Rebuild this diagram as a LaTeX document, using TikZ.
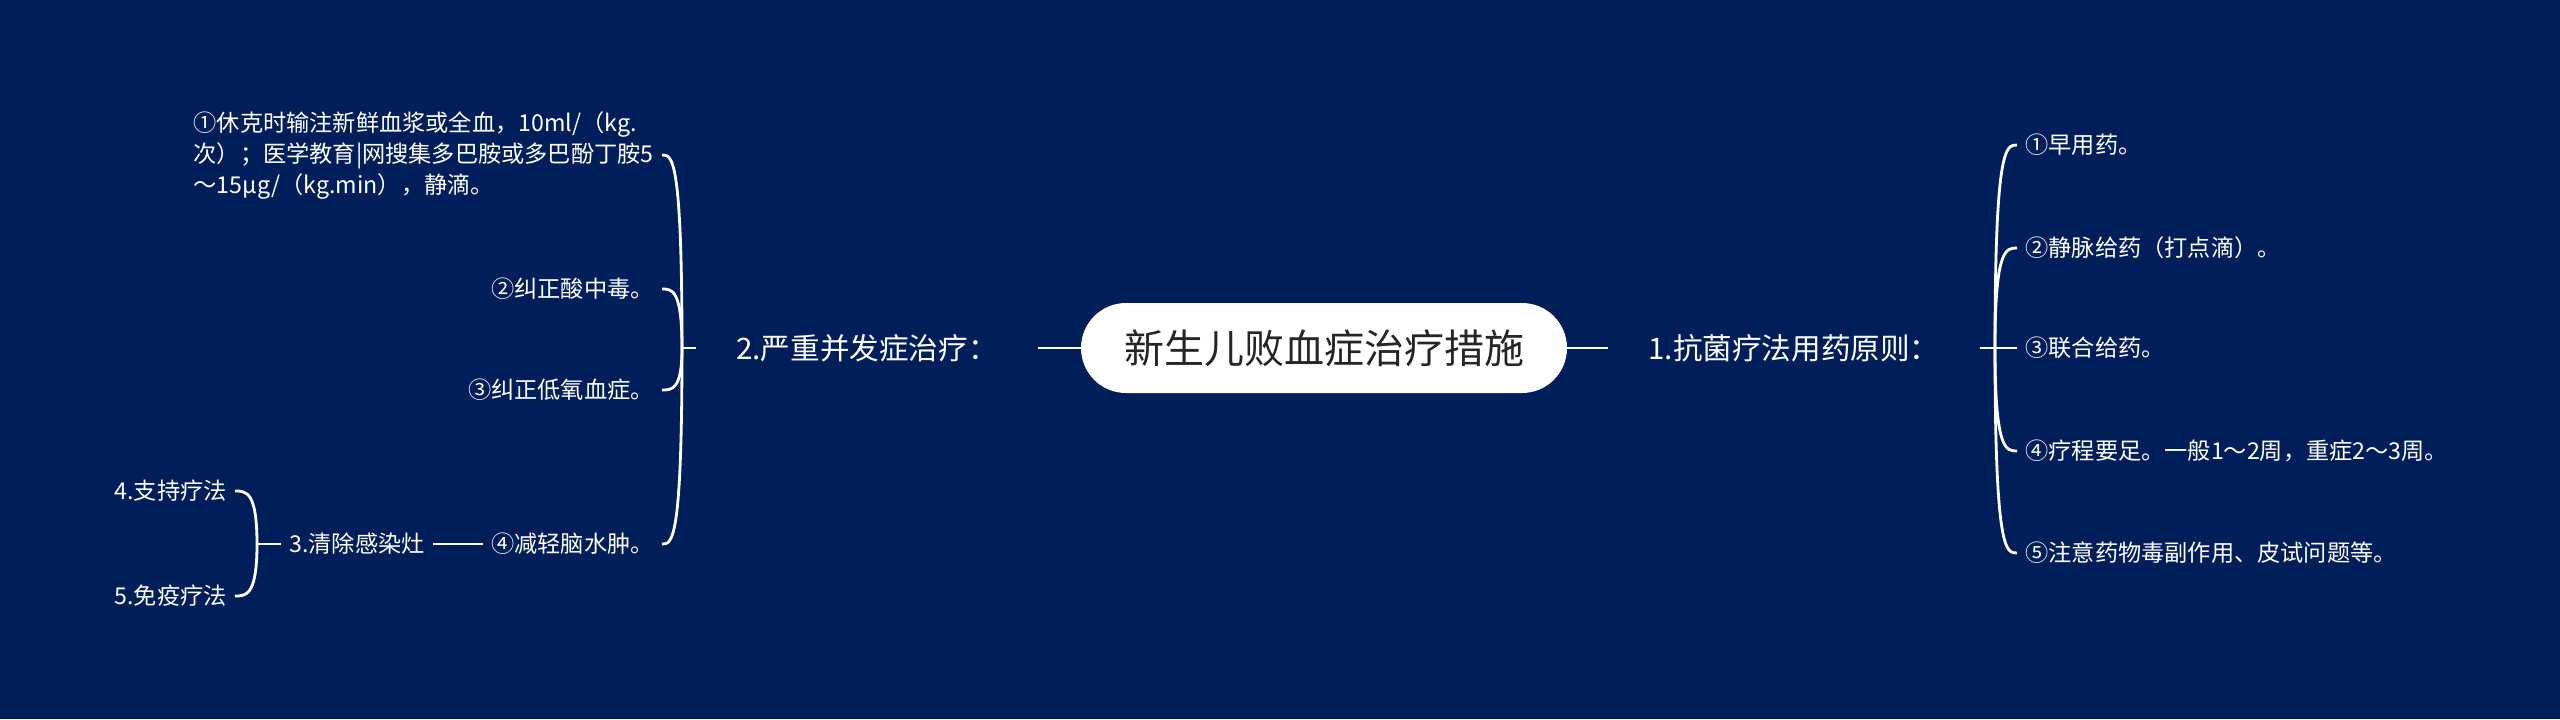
\documentclass[tikz,border=0pt]{standalone}
\usepackage{fontspec}
\setmainfont{Noto Sans CJK SC}
\usetikzlibrary{calc}
\definecolor{bgnavy}{RGB}{0,30,90}
\definecolor{pilltext}{RGB}{38,38,38}
\begin{document}
\begin{tikzpicture}[x=0.5pt,y=-0.5pt,
  every node/.style={text=white},
  leaf/.style={font=\fontsize{11.6pt}{15.5pt}\selectfont,inner xsep=4pt,inner ysep=0pt},
  topic/.style={font=\fontsize{14.8pt}{18pt}\selectfont,inner xsep=20pt,inner ysep=0pt},
  pill/.style={fill=white,text=pilltext,rounded corners=22.5pt,minimum width=243pt,minimum height=45pt,inner sep=0pt,font=\fontsize{20pt}{24pt}\selectfont},
  link/.style={draw=white,line width=1.4pt}]
\fill[bgnavy] (0,0) rectangle (2560,719);
\node(NM)[pill] at (1324,348) {新生儿败血症治疗措施};
\node(NA)[topic,anchor=west] at (1608,348) {1.抗菌疗法用药原则：};
\node(NB)[topic,anchor=east] at (1038,348) {2.严重并发症治疗：};
\coordinate(JA) at (1995,348);
\coordinate(JB) at (682,348);
\node(NA1)[leaf,anchor=west] at (2017,145) {①早用药。};
\node(NA2)[leaf,anchor=west] at (2017,248) {②静脉给药（打点滴）。};
\node(NA3)[leaf,anchor=west] at (2017,348) {③联合给药。};
\node(NA4)[leaf,anchor=west] at (2017,451) {④疗程要足。一般1～2周，重症2～3周。};
\node(NA5)[leaf,anchor=west] at (2017,553) {⑤注意药物毒副作用、皮试问题等。};
\node(NB1)[leaf,anchor=east,align=left] at (662,155) {①休克时输注新鲜血浆或全血，10ml/（kg.\\次）；医学教育|网搜集多巴胺或多巴酚丁胺5\\～15μg/（kg.min），静滴。};
\node(NB2)[leaf,anchor=east] at (662,289) {②纠正酸中毒。};
\node(NB3)[leaf,anchor=east] at (662,390) {③纠正低氧血症。};
\node(NB4)[leaf,anchor=east] at (662,544) {④减轻脑水肿。};
\node(NB41)[leaf,anchor=east] at (433,544) {3.清除感染灶};
\coordinate(JB4) at (257,544);
\node(NB411)[leaf,anchor=east] at (235,491) {4.支持疗法};
\node(NB412)[leaf,anchor=east] at (235,596) {5.免疫疗法};
\draw[link] (NM.east) -- (NA.west);
\draw[link] (NM.west) -- (NB.east);
\draw[link] (NA.east) -- (JA);
\draw[link] (NB.west) -- (JB);
\foreach \n in {NA1,NA2,NA3,NA4,NA5}
  \draw[link] (JA) .. controls (JA |- \n.west) and ($(JA |- \n.west)!0.5!(\n.west)$) .. (\n.west);
\foreach \n in {NB1,NB2,NB3,NB4}
  \draw[link] (JB) .. controls (JB |- \n.east) and ($(JB |- \n.east)!0.5!(\n.east)$) .. (\n.east);
\draw[link] (NB4.west) -- (NB41.east);
\draw[link] (NB41.west) -- (JB4);
\foreach \n in {NB411,NB412}
  \draw[link] (JB4) .. controls (JB4 |- \n.east) and ($(JB4 |- \n.east)!0.5!(\n.east)$) .. (\n.east);
\end{tikzpicture}
\end{document}
